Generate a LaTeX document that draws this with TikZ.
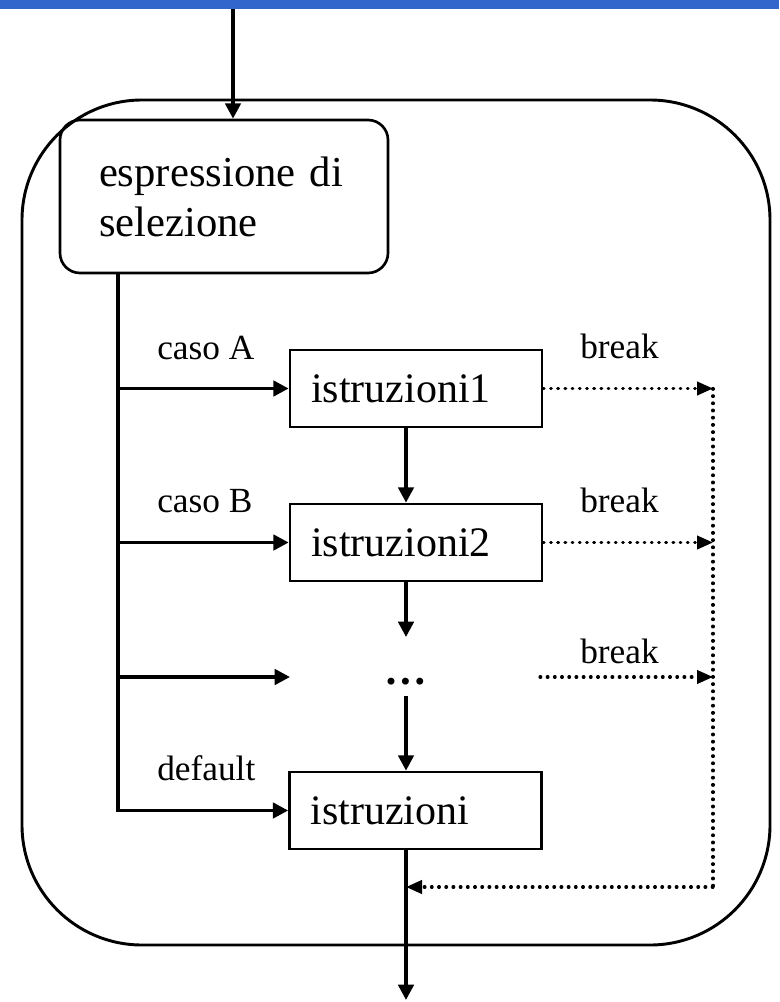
\documentclass[tikz,border=0pt]{standalone}
\usepackage{fontspec}
\setmainfont{Liberation Serif}
\usetikzlibrary{arrows.meta}
\definecolor{barblue}{RGB}{51,102,204}
\begin{document}
\begin{tikzpicture}[x=0.75pt,y=-0.75pt,
  arr/.style={line width=2.7pt,-{Triangle[length=11.5pt,width=11.5pt]}},
  dotln/.style={line width=2.3pt,line cap=round,dash pattern=on 0.6pt off 4.8pt},
  darr/.style={dotln,-{Triangle[length=12pt,width=10pt]}},
  box/.style={draw,line width=2pt,minimum width=189pt,minimum height=57.75pt,inner xsep=15.75pt,text width=157.5pt,align=left,font=\fontsize{31.5}{36}\selectfont},
  lbl/.style={anchor=base west,inner sep=0pt,font=\fontsize{26.5}{30}\selectfont}]
\useasboundingbox (0,0) rectangle (779,1002);
\fill[barblue] (0,0) rectangle (779,9);
\draw[line width=2.2pt,rounded corners=90pt] (22,100) rectangle (770,945);

\node[draw,line width=2pt,rounded corners=15pt,minimum width=246pt,minimum height=114.75pt,inner xsep=29.25pt,text width=187.5pt,align=left,font=\fontsize{32}{37.5}\selectfont] (sel) at (224,196.5) {espressione di\\selezione};
\node[box] (i1) at (416,388.5) {istruzioni1};
\node[box] (i2) at (416,542.5) {istruzioni2};
\node[box] (i3) at (415.5,810.5) {istruzioni};
\node[font=\fontsize{32}{36}\selectfont\bfseries,inner sep=0pt] (dots) at (406,682) {…};

\coordinate (in) at (233,9);
\coordinate (sp) at (118,810.5);
\coordinate (bk) at (713,887);
\coordinate (out) at (406,1000);
\coordinate (a3) at (290,677);
\coordinate (b3) at (540,677);

\draw[arr] (in) -- (in |- sel.north);
\draw[arr] (sel.south -| sp) |- (i3.west);
\draw[arr] (sp |- i1.west) -- (i1.west);
\draw[arr] (sp |- i2.west) -- (i2.west);
\draw[arr] (sp |- a3) -- (a3);
\draw[arr] (i1.south -| dots) -- (i2.north -| dots);
\draw[arr] (i2.south -| dots) -- ([yshift=33.75pt]dots.center);
\draw[arr] ([yshift=-10.5pt]dots.center) -- (i3.north -| dots);
\draw[arr] (i3.south -| dots) -- (out);

\draw[darr] (i1.east) -- (i1.east -| bk);
\draw[darr] (i2.east) -- (i2.east -| bk);
\draw[darr] (b3) -- (b3 -| bk);
\draw[dotln] (i1.east -| bk) -- (bk);
\draw[darr] (bk) -- (bk -| dots);

\node[lbl] (la) at (157,359) {caso A};
\node[lbl] (lb) at (157,512) {caso B};
\node[lbl] (ld) at (157,780) {default};
\node[lbl] (k1) at (580,358) {break};
\node[lbl] (k2) at (580,512) {break};
\node[lbl] (k3) at (580,663) {break};
\end{tikzpicture}
\end{document}
